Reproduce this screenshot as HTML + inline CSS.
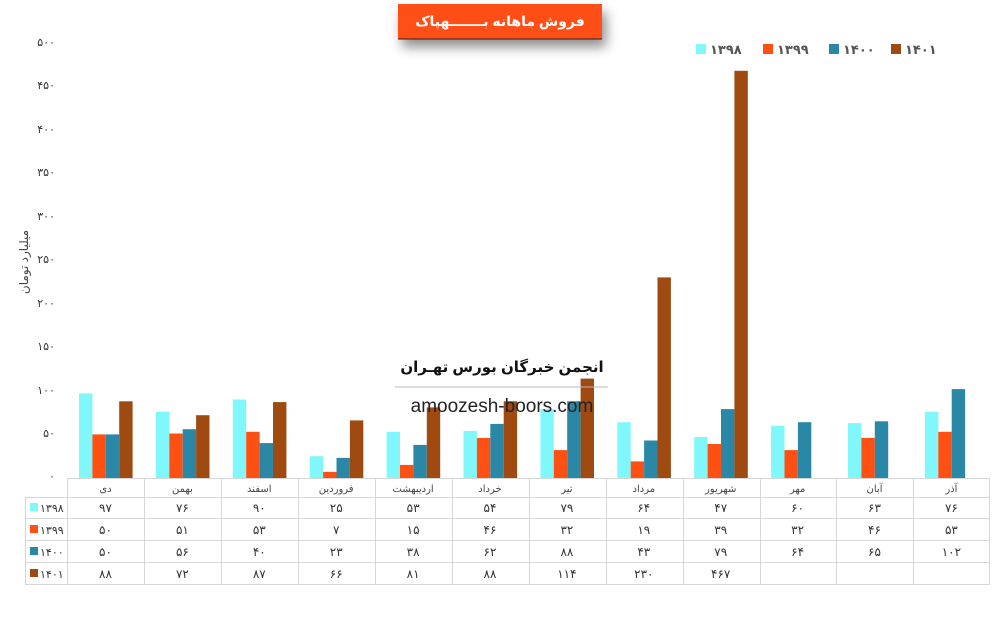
<!DOCTYPE html>
<html><head><meta charset="utf-8"><style>
body{margin:0;width:997px;height:624px;background:#fff;overflow:hidden;font-family:"Liberation Sans","DejaVu Sans",sans-serif;}
</style></head><body>
<svg width="997" height="624" viewBox="0 0 997 624" xmlns="http://www.w3.org/2000/svg">
<defs><filter id="sh" x="-30%" y="-50%" width="160%" height="250%"><feDropShadow dx="4" dy="8" stdDeviation="6" flood-color="#000" flood-opacity="0.45"/></filter></defs>
<rect x="398" y="4" width="204" height="35" fill="#ff5014" filter="url(#sh)"/>
<line x1="398" y1="39" x2="602" y2="39" stroke="#222" stroke-width="1"/>
<text x="500" y="26" text-anchor="middle" font-size="14" font-weight="bold" fill="#fff">فروش ماهانه بـــــــهپاک</text>
<g font-size="13" font-weight="bold" fill="#555">
<rect x="696" y="44" width="10" height="10" fill="#7ff7fb"/><text x="710" y="54">۱۳۹۸</text>
<rect x="763" y="44" width="10" height="10" fill="#ff5014"/><text x="777" y="54">۱۳۹۹</text>
<rect x="829" y="44" width="10" height="10" fill="#2a88a6"/><text x="843" y="54">۱۴۰۰</text>
<rect x="891" y="44" width="10" height="10" fill="#9e4a10"/><text x="905" y="54">۱۴۰۱</text>
</g>
<g font-size="11" fill="#333" text-anchor="end">
<text x="55" y="46">۵۰۰</text><text x="55" y="89">۴۵۰</text><text x="55" y="133">۴۰۰</text><text x="55" y="176">۳۵۰</text><text x="55" y="220">۳۰۰</text><text x="55" y="263">۲۵۰</text><text x="55" y="307">۲۰۰</text><text x="55" y="350">۱۵۰</text><text x="55" y="394">۱۰۰</text><text x="55" y="437">۵۰</text><text x="55" y="480">۰</text>
</g>
<text transform="translate(28,262) rotate(-90)" text-anchor="middle" font-size="12" fill="#444">میلیارد تومان</text>
<g transform="translate(0,478) scale(1,-1)">
<g fill="#7ff7fb">
<rect x="79" y="0" width="13.4" height="84.6"/><rect x="155.9" y="0" width="13.4" height="66.3"/><rect x="232.8" y="0" width="13.4" height="78.5"/><rect x="309.7" y="0" width="13.4" height="21.8"/><rect x="386.6" y="0" width="13.4" height="46.2"/><rect x="463.5" y="0" width="13.4" height="47.1"/><rect x="540.4" y="0" width="13.4" height="68.9"/><rect x="617.3" y="0" width="13.4" height="55.8"/><rect x="694.2" y="0" width="13.4" height="41"/><rect x="771.1" y="0" width="13.4" height="52.3"/><rect x="848" y="0" width="13.4" height="54.9"/><rect x="924.9" y="0" width="13.4" height="66.3"/>
</g>
<g fill="#ff5014">
<rect x="92.4" y="0" width="13.4" height="43.6"/><rect x="169.3" y="0" width="13.4" height="44.5"/><rect x="246.2" y="0" width="13.4" height="46.2"/><rect x="323.1" y="0" width="13.4" height="6.1"/><rect x="400" y="0" width="13.4" height="13.1"/><rect x="476.9" y="0" width="13.4" height="40.1"/><rect x="553.8" y="0" width="13.4" height="27.9"/><rect x="630.7" y="0" width="13.4" height="16.6"/><rect x="707.6" y="0" width="13.4" height="34"/><rect x="784.5" y="0" width="13.4" height="27.9"/><rect x="861.4" y="0" width="13.4" height="40.1"/><rect x="938.3" y="0" width="13.4" height="46.2"/>
</g>
<g fill="#2a88a6">
<rect x="105.8" y="0" width="13.4" height="43.6"/><rect x="182.7" y="0" width="13.4" height="48.8"/><rect x="259.6" y="0" width="13.4" height="34.9"/><rect x="336.5" y="0" width="13.4" height="20.1"/><rect x="413.4" y="0" width="13.4" height="33.1"/><rect x="490.3" y="0" width="13.4" height="54.1"/><rect x="567.2" y="0" width="13.4" height="76.7"/><rect x="644.1" y="0" width="13.4" height="37.5"/><rect x="721" y="0" width="13.4" height="68.9"/><rect x="797.9" y="0" width="13.4" height="55.8"/><rect x="874.8" y="0" width="13.4" height="56.7"/><rect x="951.7" y="0" width="13.4" height="88.9"/>
</g>
<g fill="#9e4a10">
<rect x="119.2" y="0" width="13.4" height="76.7"/><rect x="196.1" y="0" width="13.4" height="62.8"/><rect x="273" y="0" width="13.4" height="75.9"/><rect x="349.9" y="0" width="13.4" height="57.6"/><rect x="426.8" y="0" width="13.4" height="70.6"/><rect x="503.7" y="0" width="13.4" height="76.7"/><rect x="580.6" y="0" width="13.4" height="99.4"/><rect x="657.5" y="0" width="13.4" height="200.6"/><rect x="734.4" y="0" width="13.4" height="407.2"/>
</g>
</g>
<text x="502" y="372" text-anchor="middle" font-size="15" font-weight="bold" fill="#111">انجمن خبرگان بورس تهـران</text>
<line x1="395" y1="387" x2="608" y2="387" stroke="#bbb" stroke-width="1"/>
<text x="502" y="412" text-anchor="middle" font-size="19" fill="#222">amoozesh-boors.com</text>
<g stroke="#d6d6d6" stroke-width="1" fill="none">
<line x1="67" y1="478.5" x2="990" y2="478.5"/>
<line x1="25" y1="497.5" x2="990" y2="497.5"/>
<line x1="25" y1="518.5" x2="990" y2="518.5"/>
<line x1="25" y1="540.5" x2="990" y2="540.5"/>
<line x1="25" y1="562.5" x2="990" y2="562.5"/>
<line x1="25" y1="584.5" x2="990" y2="584.5"/>
<line x1="25.5" y1="497" x2="25.5" y2="584"/>
<line x1="67.5" y1="478" x2="67.5" y2="584"/><line x1="144.5" y1="478" x2="144.5" y2="584"/><line x1="221.5" y1="478" x2="221.5" y2="584"/><line x1="298.5" y1="478" x2="298.5" y2="584"/><line x1="375.5" y1="478" x2="375.5" y2="584"/><line x1="452.5" y1="478" x2="452.5" y2="584"/><line x1="529.5" y1="478" x2="529.5" y2="584"/><line x1="606.5" y1="478" x2="606.5" y2="584"/><line x1="683.5" y1="478" x2="683.5" y2="584"/><line x1="760.5" y1="478" x2="760.5" y2="584"/><line x1="836.5" y1="478" x2="836.5" y2="584"/><line x1="913.5" y1="478" x2="913.5" y2="584"/><line x1="989.5" y1="478" x2="989.5" y2="584"/>
</g>
<g font-size="10" fill="#444" text-anchor="middle">
<text x="105.5" y="492">دی</text><text x="182.4" y="492">بهمن</text><text x="259.3" y="492">اسفند</text><text x="336.2" y="492">فروردین</text><text x="413.1" y="492">اردیبهشت</text><text x="490" y="492">خرداد</text><text x="566.9" y="492">تیر</text><text x="643.8" y="492">مرداد</text><text x="720.7" y="492">شهریور</text><text x="797.6" y="492">مهر</text><text x="874.5" y="492">آبان</text><text x="951.4" y="492">آذر</text>
</g>
<g font-size="12" fill="#333" text-anchor="middle">
<text x="105.5" y="512">۹۷</text><text x="182.4" y="512">۷۶</text><text x="259.3" y="512">۹۰</text><text x="336.2" y="512">۲۵</text><text x="413.1" y="512">۵۳</text><text x="490" y="512">۵۴</text><text x="566.9" y="512">۷۹</text><text x="643.8" y="512">۶۴</text><text x="720.7" y="512">۴۷</text><text x="797.6" y="512">۶۰</text><text x="874.5" y="512">۶۳</text><text x="951.4" y="512">۷۶</text>
<text x="105.5" y="534">۵۰</text><text x="182.4" y="534">۵۱</text><text x="259.3" y="534">۵۳</text><text x="336.2" y="534">۷</text><text x="413.1" y="534">۱۵</text><text x="490" y="534">۴۶</text><text x="566.9" y="534">۳۲</text><text x="643.8" y="534">۱۹</text><text x="720.7" y="534">۳۹</text><text x="797.6" y="534">۳۲</text><text x="874.5" y="534">۴۶</text><text x="951.4" y="534">۵۳</text>
<text x="105.5" y="556">۵۰</text><text x="182.4" y="556">۵۶</text><text x="259.3" y="556">۴۰</text><text x="336.2" y="556">۲۳</text><text x="413.1" y="556">۳۸</text><text x="490" y="556">۶۲</text><text x="566.9" y="556">۸۸</text><text x="643.8" y="556">۴۳</text><text x="720.7" y="556">۷۹</text><text x="797.6" y="556">۶۴</text><text x="874.5" y="556">۶۵</text><text x="951.4" y="556">۱۰۲</text>
<text x="105.5" y="578">۸۸</text><text x="182.4" y="578">۷۲</text><text x="259.3" y="578">۸۷</text><text x="336.2" y="578">۶۶</text><text x="413.1" y="578">۸۱</text><text x="490" y="578">۸۸</text><text x="566.9" y="578">۱۱۴</text><text x="643.8" y="578">۲۳۰</text><text x="720.7" y="578">۴۶۷</text>
</g>
<g font-size="11" fill="#333">
<rect x="30" y="503" width="8" height="8" fill="#7ff7fb"/><text x="40" y="512">۱۳۹۸</text>
<rect x="30" y="525" width="8" height="8" fill="#ff5014"/><text x="40" y="534">۱۳۹۹</text>
<rect x="30" y="547" width="8" height="8" fill="#2a88a6"/><text x="40" y="556">۱۴۰۰</text>
<rect x="30" y="569" width="8" height="8" fill="#9e4a10"/><text x="40" y="578">۱۴۰۱</text>
</g>
</svg>
</body></html>
